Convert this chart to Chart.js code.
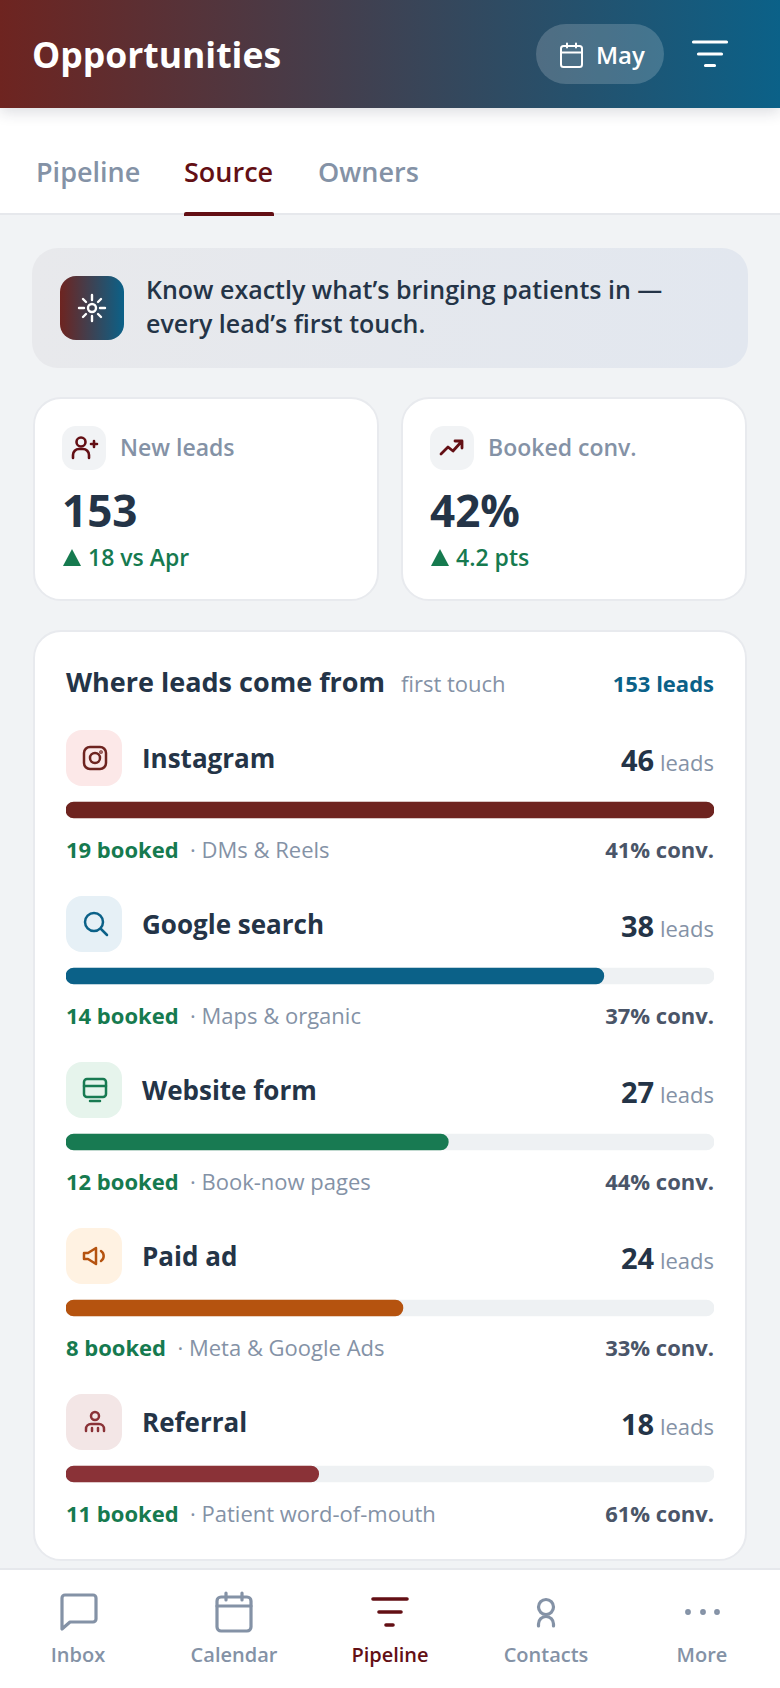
<!DOCTYPE html>
<html><head><meta charset="utf-8">
<script src="https://cdn.jsdelivr.net/npm/chart.js@4"></script>
<style>
*{box-sizing:border-box;margin:0;padding:0}
html,body{width:780px;height:1688px;overflow:hidden;background:#f1f3f5;font-family:"Open Sans",sans-serif;color:#243447}
.abs{position:absolute}
.t{position:absolute;white-space:nowrap;line-height:1}
svg{position:absolute;fill:none;stroke-linecap:round;stroke-linejoin:round;overflow:visible}
#header{left:0;top:0;width:780px;height:108px;background:linear-gradient(90deg,#6e2420,#0b6188);box-shadow:0 4px 14px rgba(30,40,60,.16);z-index:3}
#tabs{left:0;top:108px;width:780px;height:107px;background:#fff;border-bottom:2px solid #e6e8ec}
.card{position:absolute;background:#fff;border:2px solid #e8eaee}
.ico{position:absolute;border-radius:16px}
#chartWrap{position:absolute;left:66px;top:727px;width:648px;height:830px;z-index:2}
#nav{left:0;top:1568px;width:780px;height:120px;background:#fff;border-top:2px solid #e6e8ec;z-index:4}
</style></head><body>
<div class="abs" id="header"></div>
<div class="t" style="left:32px;top:37px;font-size:35.500px;font-weight:700;color:#fff;z-index:4">Opportunities</div>
<div class="abs" style="left:536px;top:24px;width:128px;height:60px;border-radius:30px;background:rgba(255,255,255,.18);z-index:4"></div>
<svg style="left:559px;top:42px;z-index:5;stroke:#fff;stroke-width:2" width="26" height="26" viewBox="0 0 26 26"><rect x="2" y="4" width="21" height="21" rx="2.500"/><path d="M2 10.500h21M8 1.500v4M17 1.500v4"/></svg>
<div class="t" style="left:596px;top:43px;font-size:24px;font-weight:600;color:#fff;z-index:5">May</div>
<svg style="left:692px;top:38px;z-index:5;stroke:#fff;stroke-width:3.2" width="36" height="32" viewBox="0 0 36 32"><path d="M1.500 4h33M6.500 16h23M13.500 27.500h9"/></svg>

<div class="abs" id="tabs"></div>
<div class="t" style="left:36px;top:158px;font-size:27px;font-weight:600;color:#8492a6">Pipeline</div>
<div class="t" style="left:184px;top:158px;font-size:27px;font-weight:600;color:#630f14">Source</div>
<div class="t" style="left:318px;top:158px;font-size:27px;font-weight:600;color:#8492a6">Owners</div>
<div class="abs" style="left:184px;top:212px;width:90px;height:4px;border-radius:2px 2px 0 0;background:#630f14"></div>

<div class="abs" style="left:32px;top:248px;width:716px;height:120px;border-radius:26px;background:linear-gradient(90deg,#e8e9ec,#e2e7ef)"></div>
<div class="abs" style="left:60px;top:276px;width:64px;height:64px;border-radius:16px;background:linear-gradient(90deg,#6e2420,#0b6188)"></div>
<svg style="left:76px;top:292px;stroke:#fff;stroke-width:2.4" width="32" height="32" viewBox="0 0 32 32"><circle cx="16" cy="16" r="4"/><path d="M16 3v5M16 24v5M3 16h5M24 16h5M7 7l3 3M22 22l3 3M7 25l3-3M22 10l3-3"/></svg>
<div class="t" style="left:146px;top:272px;font-size:25px;font-weight:600;line-height:34px;color:#243447">Know exactly what’s bringing patients in —<br>every lead’s first touch.</div>

<div class="card" style="left:33px;top:397px;width:346px;height:204px;border-radius:28px"></div>
<div class="card" style="left:401px;top:397px;width:346px;height:204px;border-radius:28px"></div>
<div class="ico" style="left:62px;top:426px;width:44px;height:44px;border-radius:14px;background:#f1f3f5"></div>
<div class="ico" style="left:430px;top:426px;width:44px;height:44px;border-radius:14px;background:#f1f3f5"></div>
<svg style="left:71px;top:435px;stroke:#630f14;stroke-width:2.6" width="28" height="26" viewBox="0 0 28 26"><circle cx="10" cy="7" r="4.500"/><path d="M2 23v-3a6 6 0 0 1 6-6h4a6 6 0 0 1 6 6v3M20 9h6M23 6v6"/></svg>
<svg style="left:439px;top:435px;stroke:#630f14;stroke-width:2.8" width="26" height="26" viewBox="0 0 26 26"><path d="M2 19l7-7 5 4 9-10M16 6h7v7"/></svg>
<div class="t" style="left:120px;top:436px;font-size:23px;font-weight:600;color:#8492a6">New leads</div>
<div class="t" style="left:488px;top:436px;font-size:23px;font-weight:600;color:#8492a6">Booked conv.</div>
<div class="t" style="left:62px;top:488px;font-size:44px;font-weight:700;color:#243447">153</div>
<div class="t" style="left:430px;top:488px;font-size:44px;font-weight:700;color:#243447">42%</div>
<div class="abs" style="left:63px;top:549px;width:0;height:0;border-left:9.500px solid transparent;border-right:9.500px solid transparent;border-bottom:17px solid #167a4f"></div>
<div class="abs" style="left:431px;top:549px;width:0;height:0;border-left:9.500px solid transparent;border-right:9.500px solid transparent;border-bottom:17px solid #167a4f"></div>
<div class="t" style="left:88px;top:546px;font-size:23px;font-weight:600;color:#167a4f">18 vs Apr</div>
<div class="t" style="left:456px;top:546px;font-size:23px;font-weight:600;color:#167a4f">4.2 pts</div>

<div class="card" style="left:33px;top:630px;width:714px;height:931px;border-radius:28px"></div>
<div class="t" style="left:66px;top:668px;font-size:27px;font-weight:700;color:#243447">Where leads come from</div>
<div class="t" style="left:401px;top:672px;font-size:22px;color:#8492a6">first touch</div>
<div class="t" style="right:66px;top:672px;font-size:22px;font-weight:700;color:#0b6188">153 leads</div>
<div id="rows"></div>
<div id="chartWrap"><canvas id="c"></canvas></div>

<div class="abs" id="nav"></div>
<div id="navItems"></div>

<script>
const categories=["Instagram","Google search","Website form","Paid ad","Referral"];
const leads=[46,38,27,24,18];
const barShare=[100,83,59,52,39];
const booked=[19,14,12,8,11];
const notes=["DMs & Reels","Maps & organic","Book-now pages","Meta & Google Ads","Patient word-of-mouth"];
const conv=[41,37,44,33,61];
const barColors=["#6e2420","#0b6188","#187a52","#b5530f","#8a3237"];
const iconBgs=["#fce8e8","#e6f0f6","#e6f4ec","#fff2e2","#f3e6e6"];
const navLabels=["Inbox","Calendar","Pipeline","Contacts","More"];
const axisMax=100;

const icons=[
 '<rect x="3" y="3" width="22" height="22" rx="6"/><circle cx="14" cy="14" r="5"/><circle cx="20" cy="8" r=".6"/>',
 '<circle cx="13" cy="12" r="9"/><path d="M20 19l6 6"/>',
 '<rect x="3" y="3" width="22" height="18" rx="3"/><path d="M3 10h22M9 25h10"/>',
 '<path d="M3 11v6h4l8 5V6L7 11zM20 9a6 6 0 0 1 0 10"/>',
 '<circle cx="14" cy="8" r="4"/><path d="M5 23v-2a5 5 0 0 1 5-5h8a5 5 0 0 1 5 5v2M11 23v-3M17 23v-3"/>'
];
const rowsEl=document.getElementById('rows');
const pitch=166;
let html='';
categories.forEach((name,i)=>{
  const y=i*pitch;
  html+=`<div class="ico" style="left:66px;top:${730+y}px;width:56px;height:56px;background:${iconBgs[i]}"></div>`;
  html+=`<svg style="left:81px;top:${744+y}px;stroke:${barColors[i]};stroke-width:2.5" width="28" height="28" viewBox="0 0 28 28">${icons[i]}</svg>`;
  html+=`<div class="t" style="left:142px;top:${745+y}px;font-size:26px;font-weight:700;color:#243447">${name}</div>`;
  html+=`<div class="t" style="right:66px;top:${745+y}px;font-size:22px;color:#8492a6"><span style="font-size:29px;font-weight:700;color:#243447">${leads[i]}</span> leads</div>`;
  const note=notes[i].replace(/&/g,'&amp;');
  html+=`<div class="t" style="left:66px;top:${838+y}px;font-size:22px;color:#8492a6"><span style="font-weight:700;color:#167a4f">${booked[i]} booked</span> &nbsp;· ${note}</div>`;
  html+=`<div class="t" style="right:66px;top:${838+y}px;font-size:22px;font-weight:700;color:#4a5568">${conv[i]}% conv.</div>`;
});
rowsEl.innerHTML=html;

const navIcons=[
 '<path d="M3 6a3 3 0 0 1 3-3h28a3 3 0 0 1 3 3v21a3 3 0 0 1-3 3H11l-8 7z"/>',
 '<rect x="2" y="5" width="34" height="34" rx="4"/><path d="M2 14h34M11 1v7M27 1v7"/>',
 '<path d="M2 7h34M8 20h22M15 33h7"/>',
 '<circle cx="19" cy="15" r="7.500"/><path d="M11.500 34v-2a7.500 7.500 0 0 1 15 0v2"/>',
 '<circle cx="5" cy="20" r="1.300"/><circle cx="20" cy="20" r="1.300"/><circle cx="34" cy="20" r="1.300"/>'
];
let navHtml='';
navLabels.forEach((l,i)=>{
  const cx=78+i*156, active=i===2, col=active?'#630f14':'#8492a6';
  navHtml+=`<svg style="left:${cx-19}px;top:1592px;z-index:5;stroke:${col};stroke-width:${active?3.6:3.2}" width="38" height="42" viewBox="0 0 38 42">${navIcons[i]}</svg>`;
  navHtml+=`<div class="t" style="left:${cx-78}px;width:156px;text-align:center;top:1645px;font-size:20px;font-weight:600;color:${col};z-index:5">${l}</div>`;
});
document.getElementById('navItems').innerHTML=navHtml;

new Chart(document.getElementById('c'),{
  type:'bar',
  data:{labels:categories,datasets:[
    {label:'Share of top source',data:barShare,backgroundColor:barColors,borderRadius:8,borderSkipped:false,barThickness:16,grouped:false,order:1},
    {label:'Track',data:categories.map(()=>axisMax),backgroundColor:'#eef1f3',borderRadius:8,borderSkipped:false,barThickness:16,grouped:false,order:2}
  ]},
  options:{indexAxis:'y',responsive:true,maintainAspectRatio:false,animation:false,
    layout:{padding:0},
    plugins:{legend:{display:false},tooltip:{enabled:false}},
    scales:{
      x:{display:false,min:0,max:axisMax},
      y:{display:false,grid:{display:false}}
    }}
});
</script>
</body></html>
